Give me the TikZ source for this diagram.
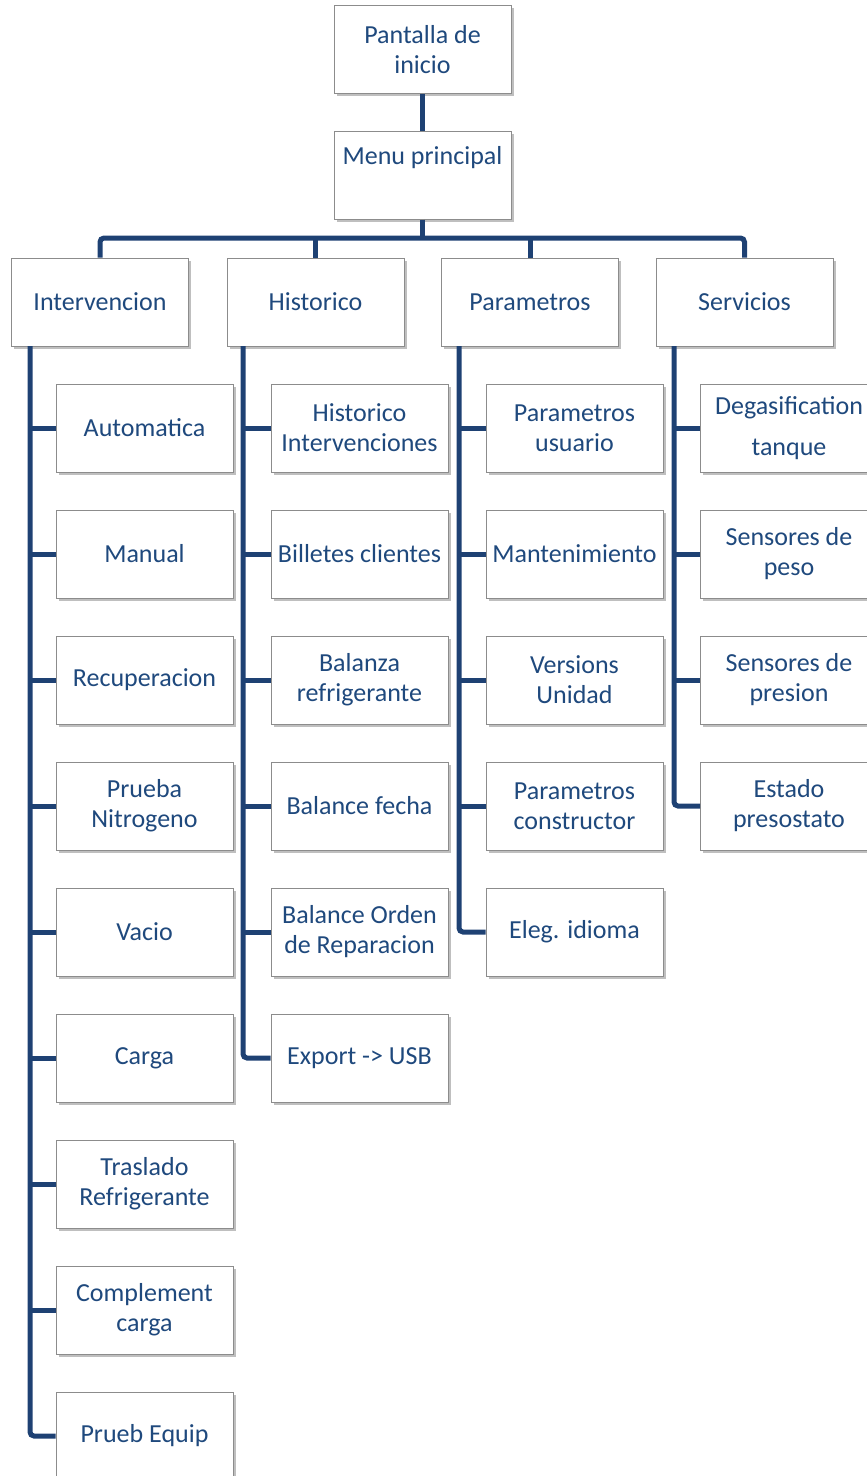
\documentclass[tikz,border=0pt]{standalone}
\usepackage{fontspec}
\setmainfont{Carlito}
\usetikzlibrary{shadows}
\definecolor{txtblue}{RGB}{31,73,125}
\definecolor{linblue}{RGB}{30,65,115}
\definecolor{boxgray}{RGB}{140,140,140}
\begin{document}
\begin{tikzpicture}[x=1pt,y=-1pt,
  box/.style={draw=boxgray, line width=1pt, fill=white, minimum width=177pt, minimum height=88pt,
    inner sep=0pt, align=center, text=txtblue, font=\fontsize{26}{30}\selectfont,
    drop shadow={shadow xshift=2.5pt, shadow yshift=-2.5pt, opacity=0.25, fill=black}},
  conn/.style={draw=linblue, line width=5pt, rounded corners=4pt, line cap=butt}]
\useasboundingbox (0,0) rectangle (867,1476);
\clip (0,0) rectangle (867,1476);
\coordinate (bar) at (422.5,238);
\coordinate (ti) at (30,346);
\coordinate (th) at (243,346);
\coordinate (tp) at (459,346);
\coordinate (ts) at (674,346);
% boxes
\node[box] (pant) at (422.5,49.5) {Pantalla de\\inicio};
\node[box] (menu) at (422.5,175) {Menu principal\\[10pt]~};
\node[box] (inter) at (100,302) {Intervencion};
\node[box] (hist) at (315.5,302) {Historico};
\node[box] (param) at (530,302) {Parametros};
\node[box] (serv) at (744.5,302) {Servicios};
% Intervencion children
\node[box] (i1) at (144.5,428) {Automatica};
\node[box] (i2) at (144.5,554) {Manual};
\node[box] (i3) at (144.5,680) {Recuperacion};
\node[box] (i4) at (144.5,806) {Prueba\\Nitrogeno};
\node[box] (i5) at (144.5,932) {Vacio};
\node[box] (i6) at (144.5,1058) {Carga};
\node[box] (i7) at (144.5,1184) {Traslado\\Refrigerante};
\node[box] (i8) at (144.5,1310) {Complement\\carga};
\node[box] (i9) at (144.5,1436) {Prueb Equip};
% Historico children
\node[box] (h1) at (359.5,428) {Historico\\Intervenciones};
\node[box] (h2) at (359.5,554) {Billetes clientes};
\node[box] (h3) at (359.5,680) {Balanza\\refrigerante};
\node[box] (h4) at (359.5,806) {Balance fecha};
\node[box] (h5) at (359.5,932) {Balance Orden\\de Reparacion};
\node[box] (h6) at (359.5,1058) {Export -> USB};
% Parametros children
\node[box] (p1) at (574.5,428) {Parametros\\usuario};
\node[box] (p2) at (574.5,554) {Mantenimiento};
\node[box] (p3) at (574.5,680) {Versions\\Unidad};
\node[box] (p4) at (574.5,806) {Parametros\\constructor};
\node[box] (p5) at (574.5,932) {Eleg. idioma};
% Servicios children
\node[box] (s1) at (789,428) {Degasification\\[11pt]tanque};
\node[box] (s2) at (789,554) {Sensores de\\peso};
\node[box] (s3) at (789,680) {Sensores de\\presion};
\node[box] (s4) at (789,806) {Estado\\presostato};
% top connectors
\draw[conn] (pant.south) -- (menu.north);
\draw[conn] (menu.south) -- (bar);
\draw[conn] (inter.north) |- (bar) -| (serv.north);
\draw[conn] (hist.north) -- (hist.north |- bar);
\draw[conn] (param.north) -- (param.north |- bar);
% child trees
\draw[conn] (ti) |- (i9.west);
\foreach \c in {i1,i2,i3,i4,i5,i6,i7,i8} \draw[conn] (\c.west -| ti) -- (\c.west);
\draw[conn] (th) |- (h6.west);
\foreach \c in {h1,h2,h3,h4,h5} \draw[conn] (\c.west -| th) -- (\c.west);
\draw[conn] (tp) |- (p5.west);
\foreach \c in {p1,p2,p3,p4} \draw[conn] (\c.west -| tp) -- (\c.west);
\draw[conn] (ts) |- (s4.west);
\foreach \c in {s1,s2,s3} \draw[conn] (\c.west -| ts) -- (\c.west);
\end{tikzpicture}
\end{document}
